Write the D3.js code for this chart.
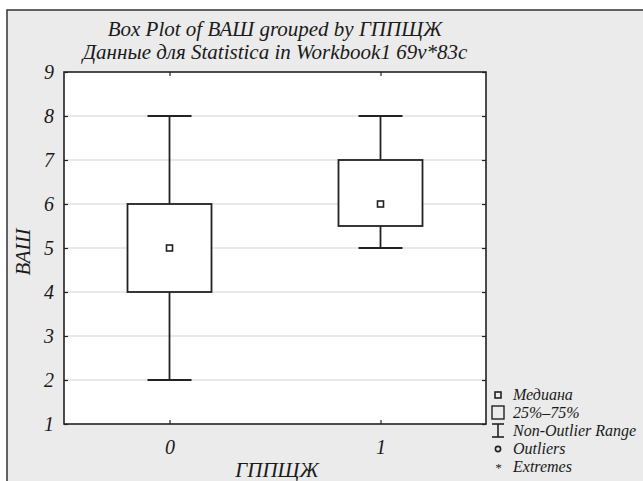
<!DOCTYPE html>
<html><head><meta charset="utf-8">
<script src="https://cdn.jsdelivr.net/npm/d3@7"></script>
<style>body{margin:0;background:#fff}svg{display:block}text{font-family:"Liberation Serif","DejaVu Serif",serif;font-style:italic;fill:#1a1a1a}</style>
</head><body><svg id="c" width="643" height="481"></svg>
<script>
const categories = ["0", "1"];
const mins = [2, 5];
const q1s = [4, 5.5];
const medians = [5, 6];
const q3s = [6, 7];
const maxs = [8, 8];
const yTicks = [1, 2, 3, 4, 5, 6, 7, 8, 9];
const legendLabels = ["Медиана", "25%–75%", "Non-Outlier Range", "Outliers", "Extremes"];
const titleLines = ["Box Plot of ВАШ grouped by ГППЩЖ", "Данные для Statistica in Workbook1 69v*83c"];

const svg = d3.select("#c");
const L = 64, R = 486, T = 72, B = 424;
const ink = "#222";
// outer frame
svg.append("rect").attr("x", 7).attr("y", 10).attr("width", 700).attr("height", 500)
  .attr("fill", "#ebebeb").attr("stroke", "#333").attr("stroke-width", 1.5);
const y = d3.scaleLinear().domain([1, 9]).range([B, T]);
const x = d3.scaleLinear().domain([-0.5, 1.5]).range([L, R]);
svg.append("rect").attr("x", L).attr("y", T).attr("width", R - L).attr("height", B - T).attr("fill", "#fff");
// gridlines
svg.append("g").selectAll("line").data(yTicks.slice(1, -1)).join("line")
  .attr("x1", L).attr("x2", R).attr("y1", d => y(d)).attr("y2", d => y(d))
  .attr("stroke", "#d4d4d4").attr("stroke-width", 1.2);
// axes
const yAxis = d3.axisLeft(y).tickValues(yTicks).tickSize(-4).tickPadding(10).tickFormat(d3.format("d"));
const gy = svg.append("g").attr("transform", `translate(${L},0)`).call(yAxis);
const gyr = svg.append("g").attr("transform", `translate(${R},0)`).call(d3.axisRight(y).tickValues(yTicks).tickSize(-4).tickFormat(""));
const xAxis = d3.axisBottom(x).tickValues(categories.map(Number)).tickSize(-4).tickPadding(12).tickFormat((d, i) => categories[i]);
const gx = svg.append("g").attr("transform", `translate(0,${B})`).call(xAxis);
const gxt = svg.append("g").attr("transform", `translate(0,${T})`).call(d3.axisTop(x).tickValues(categories.map(Number)).tickSize(-4).tickFormat(""));
[gy, gyr, gx, gxt].forEach(g => {
  g.select(".domain").remove();
  g.selectAll(".tick line").attr("stroke", ink).attr("stroke-width", 1.2);
  g.selectAll("text").attr("font-size", 20).attr("fill", "#1a1a1a").attr("font-family", null);
});
gx.selectAll("text").attr("dy", "0.9em");
// plot border
svg.append("rect").attr("x", L).attr("y", T).attr("width", R - L).attr("height", B - T)
  .attr("fill", "none").attr("stroke", ink).attr("stroke-width", 1.6);
// boxes
const bw = 84, cw = 44, ms = 6;
const data = categories.map((c, i) => ({c: +c, min: mins[i], q1: q1s[i], med: medians[i], q3: q3s[i], max: maxs[i]}));
const g = svg.append("g").attr("stroke", ink).attr("stroke-width", 1.8).attr("fill", "none");
data.forEach(d => {
  const cx = x(d.c);
  g.append("line").attr("x1", cx).attr("x2", cx).attr("y1", y(d.max)).attr("y2", y(d.q3));
  g.append("line").attr("x1", cx).attr("x2", cx).attr("y1", y(d.q1)).attr("y2", y(d.min));
  g.append("line").attr("x1", cx - cw / 2).attr("x2", cx + cw / 2).attr("y1", y(d.max)).attr("y2", y(d.max));
  g.append("line").attr("x1", cx - cw / 2).attr("x2", cx + cw / 2).attr("y1", y(d.min)).attr("y2", y(d.min));
  g.append("rect").attr("x", cx - bw / 2).attr("y", y(d.q3)).attr("width", bw).attr("height", y(d.q1) - y(d.q3)).attr("fill", "#fff");
  g.append("rect").attr("x", cx - ms / 2).attr("y", y(d.med) - ms / 2).attr("width", ms).attr("height", ms).attr("stroke-width", 1.6);
});
// titles
svg.selectAll(".title").data(titleLines).join("text").attr("class", "title")
  .attr("x", (L + R) / 2).attr("y", (d, i) => 36 + i * 23).attr("text-anchor", "middle").attr("font-size", 21).text(d => d);
// axis labels
svg.append("text").attr("transform", `translate(30,${(T + B) / 2 + 4}) rotate(-90)`).attr("text-anchor", "middle").attr("font-size", 21).text("ВАШ");
svg.append("text").attr("x", (L + R) / 2 + 2).attr("y", 477).attr("text-anchor", "middle").attr("font-size", 21).text("ГППЩЖ");
// legend
const ly = [395, 413, 431, 449, 467], lx = 498;
const lg = svg.append("g").attr("stroke", ink).attr("fill", "none");
lg.append("rect").attr("x", lx - 3).attr("y", ly[0] - 3).attr("width", 6).attr("height", 6).attr("stroke-width", 1.6);
lg.append("rect").attr("x", lx - 6).attr("y", ly[1] - 7).attr("width", 12).attr("height", 13).attr("stroke-width", 1.4);
lg.append("line").attr("x1", lx).attr("x2", lx).attr("y1", ly[2] - 7).attr("y2", ly[2] + 6).attr("stroke-width", 1.6);
lg.append("line").attr("x1", lx - 6).attr("x2", lx + 6).attr("y1", ly[2] - 7).attr("y2", ly[2] - 7).attr("stroke-width", 1.6);
lg.append("line").attr("x1", lx - 6).attr("x2", lx + 6).attr("y1", ly[2] + 6).attr("y2", ly[2] + 6).attr("stroke-width", 1.6);
lg.append("circle").attr("cx", lx).attr("cy", ly[3]).attr("r", 2.6).attr("stroke-width", 1.6);
lg.append("text").attr("x", lx).attr("y", ly[4] + 5).attr("text-anchor", "middle").attr("font-size", 13).attr("stroke", "none").attr("fill", "#aaa").attr("font-style", "normal").text("*");
svg.selectAll(".leg").data(legendLabels).join("text").attr("class", "leg")
  .attr("x", 513).attr("y", (d, i) => ly[i] + 5).attr("font-size", 16).text(d => d);
</script></body></html>
